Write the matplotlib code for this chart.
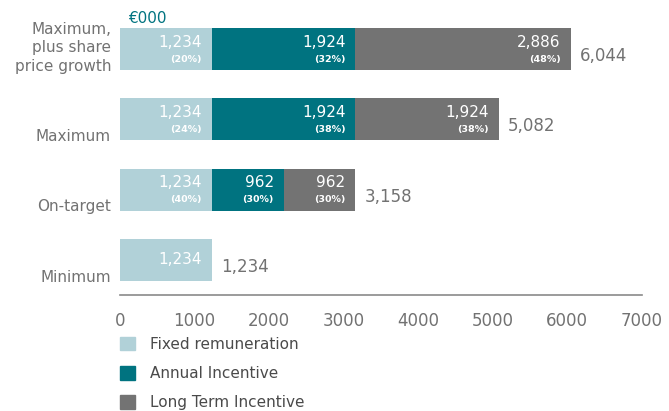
import numpy as np
import matplotlib.pyplot as plt
from matplotlib.patches import Patch
from matplotlib.transforms import offset_copy

plt.rcParams['font.family'] = ['DejaVu Sans']

# remuneration scenarios, €000
scenarios = ['Minimum', 'On-target', 'Maximum', 'Maximum,\nplus share\nprice growth']
fixed = [1234, 1234, 1234, 1234]
annual = [0, 962, 1924, 1924]
long_term = [0, 962, 1924, 2886]
fixed_pct = [None, 40, 24, 20]
annual_pct = [None, 30, 38, 32]
long_pct = [None, 30, 38, 48]
totals = [1234, 3158, 5082, 6044]

c_fixed = '#b1d1d8'
c_annual = '#007380'
c_long = '#737373'
c_text = '#727272'

fig = plt.figure(figsize=(6.69, 4.11), dpi=100)
ax = fig.add_axes([0.1794, 0.2822, 0.780, 0.6837])

y = np.arange(len(scenarios))
h = 0.6
fixed = np.array(fixed)
annual = np.array(annual)
long_term = np.array(long_term)

ax.barh(y, fixed, height=h, color=c_fixed)
ax.barh(y, annual, left=fixed, height=h, color=c_annual)
ax.barh(y, long_term, left=fixed + annual, height=h, color=c_long)

def seg_label(x_end, yc, val, pct):
    tr = offset_copy(ax.transData, fig=fig, x=-10, y=0, units='dots')
    if pct is None:
        ax.text(x_end, yc, f'{val:,}', transform=tr, ha='right', va='center',
                color='white', fontsize=11)
        return
    ax.text(x_end, yc + 0.1, f'{val:,}', transform=tr, ha='right', va='center',
            color='white', fontsize=11)
    ax.text(x_end, yc - 0.145, f'({pct}%)', transform=tr, ha='right', va='center',
            color='white', fontsize=6.8, fontweight='bold')

for i in y:
    seg_label(fixed[i], i, fixed[i], fixed_pct[i])
    if annual[i]:
        seg_label(fixed[i] + annual[i], i, annual[i], annual_pct[i])
    if long_term[i]:
        seg_label(fixed[i] + annual[i] + long_term[i], i, long_term[i], long_pct[i])
    tr = offset_copy(ax.transData, fig=fig, x=9, y=0, units='dots')
    ax.text(totals[i], i - 0.1, f'{totals[i]:,}', transform=tr, ha='left', va='center',
            color=c_text, fontsize=12)

# category labels sit on the bottom edge of each bar
for i, name in enumerate(scenarios):
    tr = offset_copy(ax.transData, fig=fig, x=-9, y=0, units='dots')
    ax.text(0, i - 0.31, name, transform=tr, ha='right', va='baseline',
            color=c_text, fontsize=11, multialignment='right', linespacing=1.3)

tr = offset_copy(ax.transData, fig=fig, x=8, y=0, units='dots')
ax.text(0, 3.44, '€000', transform=tr, color=c_annual, fontsize=11,
        ha='left', va='center')

ax.set_xlim(0, 7000)
ax.set_ylim(-0.5, 3.5)
ax.set_xticks(np.arange(0, 7001, 1000))
ax.set_yticks([])
for s in ['top', 'right', 'left']:
    ax.spines[s].set_visible(False)
ax.spines['bottom'].set_color('#8a8a8a')
ax.spines['bottom'].set_linewidth(1.2)
ax.tick_params(axis='x', length=0, pad=12, labelsize=12, labelcolor=c_text)

handles = [Patch(color=c_fixed), Patch(color=c_annual), Patch(color=c_long)]
labels = ['Fixed remuneration', 'Annual Incentive', 'Long Term Incentive']
fig.legend(handles, labels, loc='upper left', bbox_to_anchor=(120 / 669, 1 - 337 / 411),
           frameon=False, fontsize=11, handlelength=0.98, handleheight=0.98,
           handletextpad=1.0, labelspacing=0.92, labelcolor='#4a4a4a',
           borderaxespad=0, borderpad=0)

plt.savefig('out.png', dpi=100)
